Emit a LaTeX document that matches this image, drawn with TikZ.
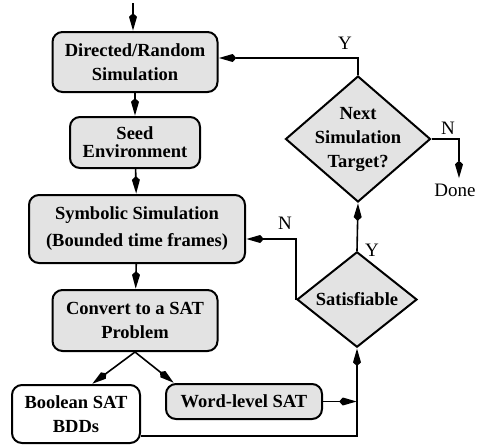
\documentclass[tikz,border=0pt]{standalone}
\usepackage{fontspec}
\setmainfont{Liberation Serif}
\usetikzlibrary{shapes}
\usetikzlibrary{arrows.meta}
\tikzset{
  flownode/.style = {align=center, inner sep=0pt, text centered,
    font=\bfseries\fontsize{18.5}{24}\selectfont},
  grey_box/.style = {flownode, rectangle, rounded corners=10pt, draw=black,
    fill=gray!22, line width=2pt},% boite grise
  white_box/.style = {grey_box, fill=white},% boite blanche
  test_node/.style = {flownode, diamond, draw=black, fill=gray!22,
    line width=2pt},% decision
  yn_label/.style = {inner sep=4pt, font=\fontsize{19}{22}\selectfont},% Y / N
  flow/.style = {line width=1.6pt, -{Stealth[length=14pt,width=7pt,inset=-4pt]}}
}

\begin{document}
\begin{tikzpicture}[x=1pt, y=-1pt]
    \useasboundingbox (0,0) rectangle (485,445);
    % boites
    \node [grey_box, minimum width=165pt, minimum height=60pt] (sim) at (135,62) {Directed/Random\\Simulation};
    \node [grey_box, minimum width=130pt, minimum height=51pt] (seed) at (135,142.5) {Seed\\[-6pt]Environment};
    \node [grey_box, minimum width=216pt, minimum height=68pt] (symb) at (137,229) {Symbolic Simulation\\[3pt](Bounded time frames)};
    \node [grey_box, minimum width=165pt, minimum height=61pt] (conv) at (135,320.5) {Convert to a SAT\\Problem};
    \node [white_box, minimum width=128pt, minimum height=58pt] (bool) at (76,414) {Boolean SAT\\BDDs};
    \node [grey_box, minimum width=156pt, minimum height=35pt] (word) at (244,401.5) {Word-level SAT};
    \node [test_node, minimum width=120pt, minimum height=85pt] (sat) at (357,299.5) {Satisfiable};
    \node [test_node, inner sep=-8pt, minimum width=145pt, minimum height=126pt] (next) at (358,139) {Next\\Simulation\\Target?};
    \node [yn_label, inner sep=5pt] (done) at (455,190) {Done};
    \coordinate (entry) at (133,3);
    % fleches
    \draw [flow] (entry) -- (entry |- sim.north);
    \draw [flow] (sim) -- (seed);
    \draw [flow] (seed) -- (symb);
    \draw [flow] (symb) -- (conv);
    \draw [flow] (conv.south) -- ([xshift=16pt]bool.north);
    \draw [flow] (conv.south) -- ([xshift=-70pt]word.north);
    \draw [flow] (word.east) -- (word.east -| sat.south);
    \draw [flow] ([yshift=-22pt]bool.east) -| (sat.south);
    \draw [flow] (sat.north) -- (next.south);
    \draw [flow] (sat.west) |- ([yshift=-10pt]symb.east);
    \draw [flow] (next.north) |- ([yshift=4pt]sim.east);
    \draw [flow] (next.east) -| ([xshift=4pt]done.north);
    % etiquettes
    \node [yn_label] (y_next) at (345,43) {Y};
    \node [yn_label] (n_next) at (448,128) {N};
    \node [yn_label] (y_sat) at (372,250) {Y};
    \node [yn_label] (n_sat) at (285,223) {N};
\end{tikzpicture}
\end{document}
